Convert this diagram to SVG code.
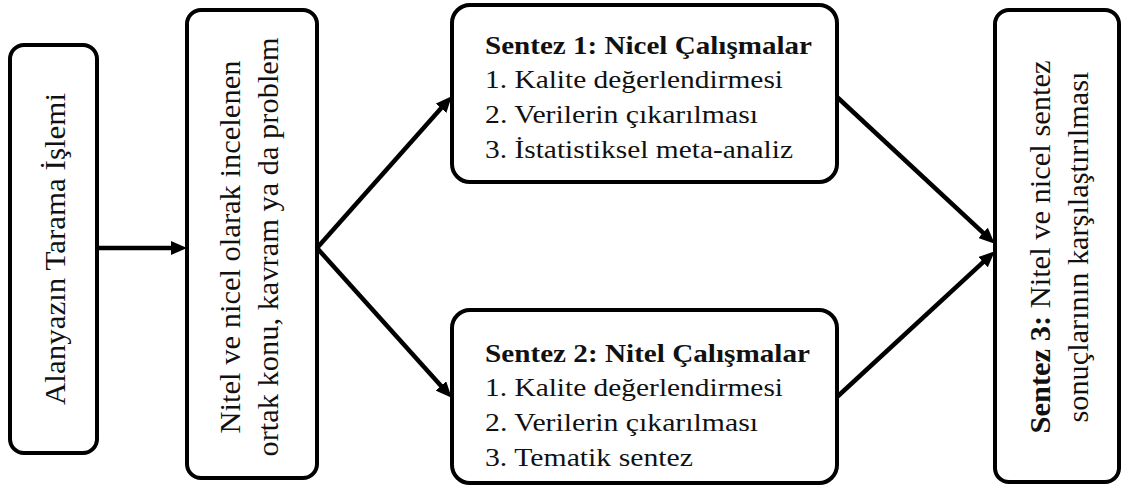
<svg xmlns="http://www.w3.org/2000/svg" width="1123" height="488" viewBox="0 0 1123 488">
<style>
.box{fill:#fff;stroke:#000;stroke-width:4}
text{font-family:'Liberation Serif','Times New Roman',Times,Tinos,serif;fill:#111}
.v{font-size:30px}
.h{font-size:25px}
.b{font-weight:bold}
.conn{stroke:#000;stroke-width:4.5;fill:none}
</style>
<defs>
<marker id="ah" viewBox="0 0 16 14" refX="5" refY="7" markerWidth="16" markerHeight="14" markerUnits="userSpaceOnUse" orient="auto">
<path d="M0,0 L16,7 L0,14 Z" fill="#000"/>
</marker>
</defs>
<g id="connectors">
<path class="conn" d="M97,248 L176,248" marker-end="url(#ah)"/>
<path class="conn" d="M317,248 L444.4,104.5" marker-end="url(#ah)"/>
<path class="conn" d="M317,248 L444.3,389.6" marker-end="url(#ah)"/>
<path class="conn" d="M837,97 L986.7,236.2" marker-end="url(#ah)"/>
<path class="conn" d="M837,397 L986.7,258.8" marker-end="url(#ah)"/>
</g>
<g id="node1">
<rect class="box" x="10" y="45" width="87" height="408" rx="14"/>
<text class="v" transform="translate(65,249) rotate(-90)" text-anchor="middle" textLength="312" lengthAdjust="spacingAndGlyphs">Alanyazın Tarama İşlemi</text>
</g>
<g id="node2">
<rect class="box" x="187" y="10" width="130" height="468" rx="14"/>
<text class="v" transform="translate(240,247) rotate(-90)" text-anchor="middle" textLength="373" lengthAdjust="spacingAndGlyphs">Nitel ve nicel olarak incelenen</text>
<text class="v" transform="translate(278,247) rotate(-90)" text-anchor="middle" textLength="419" lengthAdjust="spacingAndGlyphs">ortak konu, kavram ya da problem</text>
</g>
<g id="node3">
<rect class="box" x="452" y="5" width="385" height="177" rx="18"/>
<text class="h b" x="485" y="54" textLength="327" lengthAdjust="spacingAndGlyphs">Sentez 1: Nicel Çalışmalar</text>
<text class="h" x="485" y="88" textLength="298" lengthAdjust="spacingAndGlyphs">1. Kalite değerlendirmesi</text>
<text class="h" x="485" y="123" textLength="273" lengthAdjust="spacingAndGlyphs">2. Verilerin çıkarılması</text>
<text class="h" x="485" y="158" textLength="308" lengthAdjust="spacingAndGlyphs">3. İstatistiksel meta-analiz</text>
</g>
<g id="node4">
<rect class="box" x="452" y="310" width="385" height="173" rx="18"/>
<text class="h b" x="485" y="362" textLength="325" lengthAdjust="spacingAndGlyphs">Sentez 2: Nitel Çalışmalar</text>
<text class="h" x="485" y="396" textLength="298" lengthAdjust="spacingAndGlyphs">1. Kalite değerlendirmesi</text>
<text class="h" x="485" y="431" textLength="273" lengthAdjust="spacingAndGlyphs">2. Verilerin çıkarılması</text>
<text class="h" x="485" y="466" textLength="208" lengthAdjust="spacingAndGlyphs">3. Tematik sentez</text>
</g>
<g id="node5">
<rect class="box" x="995" y="10" width="124" height="472" rx="14"/>
<text class="v" transform="translate(1050,247) rotate(-90)" text-anchor="middle" textLength="373" lengthAdjust="spacingAndGlyphs"><tspan class="b">Sentez 3:</tspan> Nitel ve nicel sentez</text>
<text class="v" transform="translate(1088,247) rotate(-90)" text-anchor="middle" textLength="351" lengthAdjust="spacingAndGlyphs">sonuçlarının karşılaştırılması</text>
</g>
</svg>
